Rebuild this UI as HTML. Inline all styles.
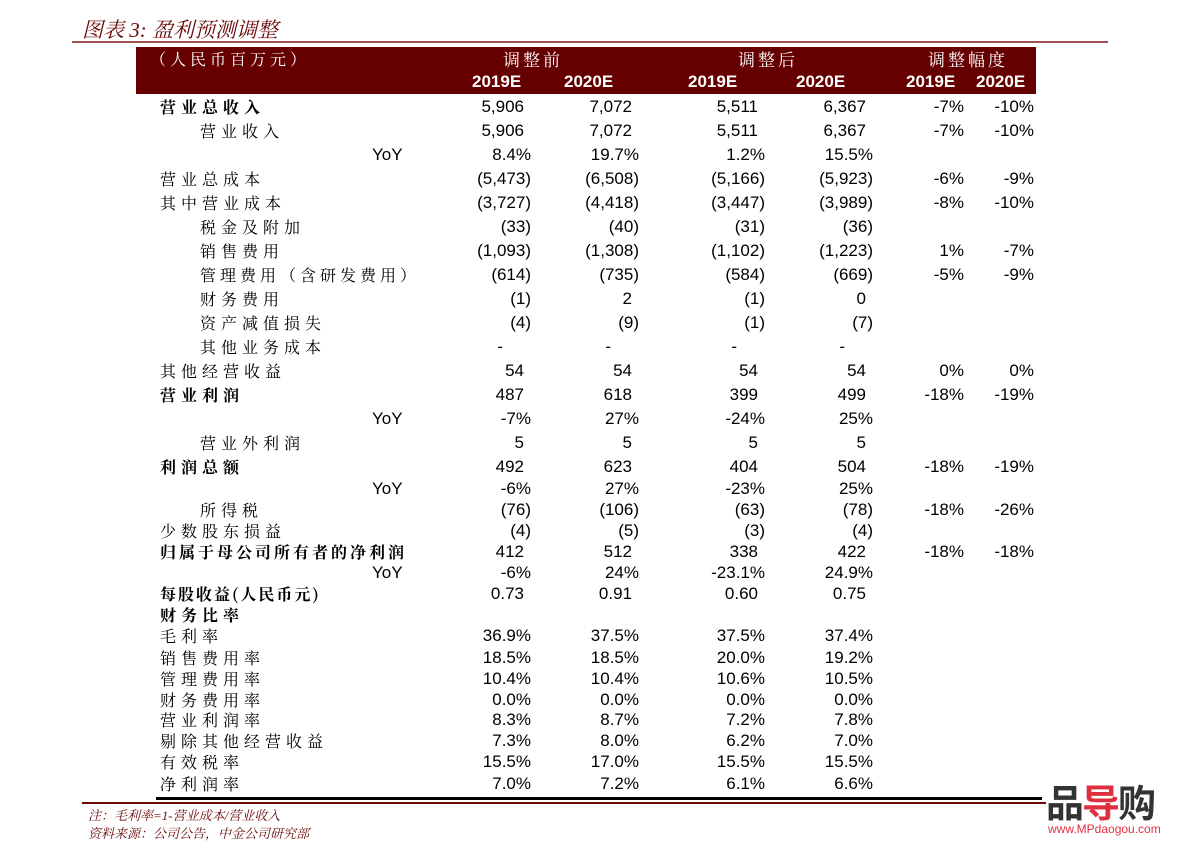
<!DOCTYPE html>
<html><head><meta charset="utf-8"><style>
body{margin:0;background:#fff;}
#p{position:relative;width:1191px;height:858px;overflow:hidden;background:#fff;font-family:"Liberation Sans",Arial,sans-serif;color:#000;}
.a{position:absolute;white-space:nowrap;}
.r{position:absolute;left:0;width:1191px;height:20px;line-height:20px;font-size:17px;}
.r span{position:absolute;top:0;white-space:nowrap;}
.l{left:160px;font-family:"Noto Serif CJK SC","Liberation Serif",serif;font-size:16px;letter-spacing:5px;}
.i{left:200px;}
.b{font-weight:bold;}
.y{left:372px;}
.c1{right:660px}.c2{right:552px}.c3{right:426px}.c4{right:318px}.c5{right:227px}.c6{right:157px}
.n{padding-right:7px;}
.hd{color:#fff;font-size:17px;line-height:22px;}
</style></head><body><div id="p">
<div class="a" style="left:82px;top:14px;font-size:21px;font-style:italic;color:#6b0a0a;font-family:'Liberation Serif','Noto Serif CJK SC',serif;">图表 3: 盈利预测调整</div>
<div class="a" style="left:72px;top:41px;width:1036px;height:2px;background:#a05050;"></div>
<div class="a" style="left:136px;top:47px;width:900px;height:47px;background:#660000;"></div>
<div class="a hd" style="left:150px;top:48px;font-family:'Noto Serif CJK SC',serif;letter-spacing:4px;font-size:16px;">（人民币百万元）</div>
<div class="a hd" style="left:503px;top:48px;font-family:'Noto Serif CJK SC',serif;letter-spacing:3px;">调整前</div>
<div class="a hd" style="left:738px;top:48px;font-family:'Noto Serif CJK SC',serif;letter-spacing:3px;">调整后</div>
<div class="a hd" style="left:928px;top:48px;font-family:'Noto Serif CJK SC',serif;letter-spacing:3px;">调整幅度</div>
<div class="a hd b" style="left:472px;top:71px;">2019E</div>
<div class="a hd b" style="left:564px;top:71px;">2020E</div>
<div class="a hd b" style="left:688px;top:71px;">2019E</div>
<div class="a hd b" style="left:796px;top:71px;">2020E</div>
<div class="a hd b" style="left:906px;top:71px;">2019E</div>
<div class="a hd b" style="left:976px;top:71px;">2020E</div>

<div class="r" style="top:97px"><span class="l b">营业总收入</span><span class="c1 n">5,906</span><span class="c2 n">7,072</span><span class="c3 n">5,511</span><span class="c4 n">6,367</span><span class="c5">-7%</span><span class="c6">-10%</span></div>
<div class="r" style="top:121px"><span class="l i">营业收入</span><span class="c1 n">5,906</span><span class="c2 n">7,072</span><span class="c3 n">5,511</span><span class="c4 n">6,367</span><span class="c5">-7%</span><span class="c6">-10%</span></div>
<div class="r" style="top:145px"><span class="y">YoY</span><span class="c1">8.4%</span><span class="c2">19.7%</span><span class="c3">1.2%</span><span class="c4">15.5%</span></div>
<div class="r" style="top:169px"><span class="l">营业总成本</span><span class="c1">(5,473)</span><span class="c2">(6,508)</span><span class="c3">(5,166)</span><span class="c4">(5,923)</span><span class="c5">-6%</span><span class="c6">-9%</span></div>
<div class="r" style="top:193px"><span class="l">其中营业成本</span><span class="c1">(3,727)</span><span class="c2">(4,418)</span><span class="c3">(3,447)</span><span class="c4">(3,989)</span><span class="c5">-8%</span><span class="c6">-10%</span></div>
<div class="r" style="top:217px"><span class="l i">税金及附加</span><span class="c1">(33)</span><span class="c2">(40)</span><span class="c3">(31)</span><span class="c4">(36)</span></div>
<div class="r" style="top:241px"><span class="l i">销售费用</span><span class="c1">(1,093)</span><span class="c2">(1,308)</span><span class="c3">(1,102)</span><span class="c4">(1,223)</span><span class="c5">1%</span><span class="c6">-7%</span></div>
<div class="r" style="top:265px"><span class="l i" style="letter-spacing:4px">管理费用（含研发费用）</span><span class="c1">(614)</span><span class="c2">(735)</span><span class="c3">(584)</span><span class="c4">(669)</span><span class="c5">-5%</span><span class="c6">-9%</span></div>
<div class="r" style="top:289px"><span class="l i">财务费用</span><span class="c1">(1)</span><span class="c2 n">2</span><span class="c3">(1)</span><span class="c4 n">0</span></div>
<div class="r" style="top:313px"><span class="l i">资产减值损失</span><span class="c1">(4)</span><span class="c2">(9)</span><span class="c3">(1)</span><span class="c4">(7)</span></div>
<div class="r" style="top:337px"><span class="l i">其他业务成本</span><span class="c1" style="right:688px">-</span><span class="c2" style="right:580px">-</span><span class="c3" style="right:454px">-</span><span class="c4" style="right:346px">-</span></div>
<div class="r" style="top:361px"><span class="l">其他经营收益</span><span class="c1 n">54</span><span class="c2 n">54</span><span class="c3 n">54</span><span class="c4 n">54</span><span class="c5">0%</span><span class="c6">0%</span></div>
<div class="r" style="top:385px"><span class="l b">营业利润</span><span class="c1 n">487</span><span class="c2 n">618</span><span class="c3 n">399</span><span class="c4 n">499</span><span class="c5">-18%</span><span class="c6">-19%</span></div>
<div class="r" style="top:409px"><span class="y">YoY</span><span class="c1">-7%</span><span class="c2">27%</span><span class="c3">-24%</span><span class="c4">25%</span></div>
<div class="r" style="top:433px"><span class="l i">营业外利润</span><span class="c1 n">5</span><span class="c2 n">5</span><span class="c3 n">5</span><span class="c4 n">5</span></div>
<div class="r" style="top:457px"><span class="l b">利润总额</span><span class="c1 n">492</span><span class="c2 n">623</span><span class="c3 n">404</span><span class="c4 n">504</span><span class="c5">-18%</span><span class="c6">-19%</span></div>
<div class="r" style="top:479px"><span class="y">YoY</span><span class="c1">-6%</span><span class="c2">27%</span><span class="c3">-23%</span><span class="c4">25%</span></div>
<div class="r" style="top:500px"><span class="l i">所得税</span><span class="c1">(76)</span><span class="c2">(106)</span><span class="c3">(63)</span><span class="c4">(78)</span><span class="c5">-18%</span><span class="c6">-26%</span></div>
<div class="r" style="top:521px"><span class="l">少数股东损益</span><span class="c1">(4)</span><span class="c2">(5)</span><span class="c3">(3)</span><span class="c4">(4)</span></div>
<div class="r" style="top:542px"><span class="l b" style="letter-spacing:3px">归属于母公司所有者的净利润</span><span class="c1 n">412</span><span class="c2 n">512</span><span class="c3 n">338</span><span class="c4 n">422</span><span class="c5">-18%</span><span class="c6">-18%</span></div>
<div class="r" style="top:563px"><span class="y">YoY</span><span class="c1">-6%</span><span class="c2">24%</span><span class="c3">-23.1%</span><span class="c4">24.9%</span></div>
<div class="r" style="top:584px"><span class="l b" style="letter-spacing:2px">每股收益(人民币元)</span><span class="c1 n">0.73</span><span class="c2 n">0.91</span><span class="c3 n">0.60</span><span class="c4 n">0.75</span></div>
<div class="r" style="top:605px"><span class="l b">财务比率</span></div>
<div class="r" style="top:626px"><span class="l">毛利率</span><span class="c1">36.9%</span><span class="c2">37.5%</span><span class="c3">37.5%</span><span class="c4">37.4%</span></div>
<div class="r" style="top:648px"><span class="l">销售费用率</span><span class="c1">18.5%</span><span class="c2">18.5%</span><span class="c3">20.0%</span><span class="c4">19.2%</span></div>
<div class="r" style="top:669px"><span class="l">管理费用率</span><span class="c1">10.4%</span><span class="c2">10.4%</span><span class="c3">10.6%</span><span class="c4">10.5%</span></div>
<div class="r" style="top:690px"><span class="l">财务费用率</span><span class="c1">0.0%</span><span class="c2">0.0%</span><span class="c3">0.0%</span><span class="c4">0.0%</span></div>
<div class="r" style="top:710px"><span class="l">营业利润率</span><span class="c1">8.3%</span><span class="c2">8.7%</span><span class="c3">7.2%</span><span class="c4">7.8%</span></div>
<div class="r" style="top:731px"><span class="l">剔除其他经营收益</span><span class="c1">7.3%</span><span class="c2">8.0%</span><span class="c3">6.2%</span><span class="c4">7.0%</span></div>
<div class="r" style="top:752px"><span class="l">有效税率</span><span class="c1">15.5%</span><span class="c2">17.0%</span><span class="c3">15.5%</span><span class="c4">15.5%</span></div>
<div class="r" style="top:774px"><span class="l">净利润率</span><span class="c1">7.0%</span><span class="c2">7.2%</span><span class="c3">6.1%</span><span class="c4">6.6%</span></div>

<div class="a" style="left:156px;top:797px;width:886px;height:3px;background:#000;"></div>
<div class="a" style="left:82px;top:802px;width:964px;height:2px;background:#6b0a0a;"></div>
<div class="a" style="left:88px;top:805px;font-size:13px;font-style:italic;color:#6b0a0a;font-family:'Liberation Serif','Noto Serif CJK SC',serif;">注：毛利率=1-营业成本/营业收入</div>
<div class="a" style="left:88px;top:823px;font-size:13px;font-style:italic;color:#6b0a0a;font-family:'Liberation Serif','Noto Serif CJK SC',serif;">资料来源：公司公告，中金公司研究部</div>
<div class="a" style="left:1046px;top:780px;font-size:38px;line-height:42px;font-weight:bold;color:#333;font-family:'Noto Sans CJK SC',sans-serif;letter-spacing:-2px;">品<span style="color:#e03040">导</span>购</div>
<div class="a" style="left:1048px;top:822px;font-size:12px;color:#e03040;">www.MPdaogou.com</div>
</div></body></html>
